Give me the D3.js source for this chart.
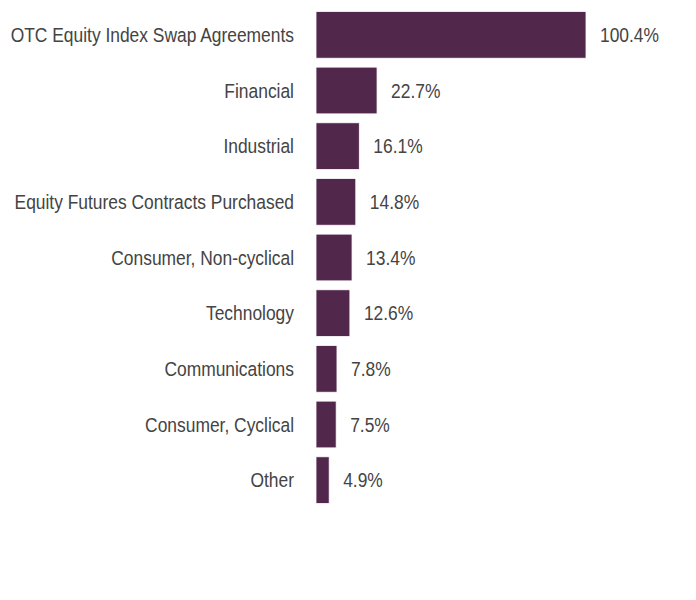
<!DOCTYPE html>
<html lang="en">
<head>
    <meta charset="UTF-8">
    <title>Holdings</title>
    <script src="https://d3js.org/d3.v7.min.js"></script>
    <style>
        body {
            margin: 0;
            padding: 0;
            background: #fff;
            font-family: 'Liberation Sans', Arial, sans-serif;
        }
    </style>
</head>
<body>
    <script>
        // Datos
        const categories = [
            "OTC Equity Index Swap Agreements",
            "Financial",
            "Industrial",
            "Equity Futures Contracts Purchased",
            "Consumer, Non-cyclical",
            "Technology",
            "Communications",
            "Consumer, Cyclical",
            "Other"
        ];
        const values = [100.4, 22.7, 16.1, 14.8, 13.4, 12.6, 7.8, 7.5, 4.9];
        const valueLabels = ["100.4%", "22.7%", "16.1%", "14.8%", "13.4%", "12.6%", "7.8%", "7.5%", "4.9%"];

        const width = 696;
        const height = 600;
        const squeeze = 0.893; // texto un poco estrecho

        const svg = d3.select("body")
            .append("svg")
            .attr("width", width)
            .attr("height", height);

        const x = d3.scaleLinear()
            .domain([0, d3.max(values)])
            .range([316, 586]);

        const y = d3.scaleBand()
            .domain(categories)
            .range([7, 508])
            .paddingInner(0.16)
            .paddingOuter(0.08);

        const rows = categories.map((c, i) => ({ cat: c, v: values[i], label: valueLabels[i] }));

        // Barras
        svg.append("g")
            .selectAll("rect")
            .data(rows)
            .enter()
            .append("rect")
            .attr("x", x(0))
            .attr("y", d => y(d.cat))
            .attr("width", d => x(d.v) - x(0))
            .attr("height", y.bandwidth())
            .attr("fill", "#52274c")
            .attr("stroke", "#ffffff")
            .attr("stroke-width", 0.8);

        // Etiquetas de categoría
        svg.append("g")
            .selectAll("text")
            .data(rows)
            .enter()
            .append("text")
            .attr("transform", d => `translate(294,${y(d.cat) + y.bandwidth() / 2}) scale(${squeeze},1)`)
            .attr("dy", "0.36em")
            .attr("text-anchor", "end")
            .attr("font-size", "19.5px")
            .attr("fill", "#444444")
            .text(d => d.cat);

        // Etiquetas de valor
        svg.append("g")
            .selectAll("text")
            .data(rows)
            .enter()
            .append("text")
            .attr("transform", d => `translate(${x(d.v) + 14},${y(d.cat) + y.bandwidth() / 2}) scale(${squeeze},1)`)
            .attr("dy", "0.36em")
            .attr("font-size", "19.5px")
            .attr("fill", "#444444")
            .text(d => d.label);
    </script>
</body>
</html>
